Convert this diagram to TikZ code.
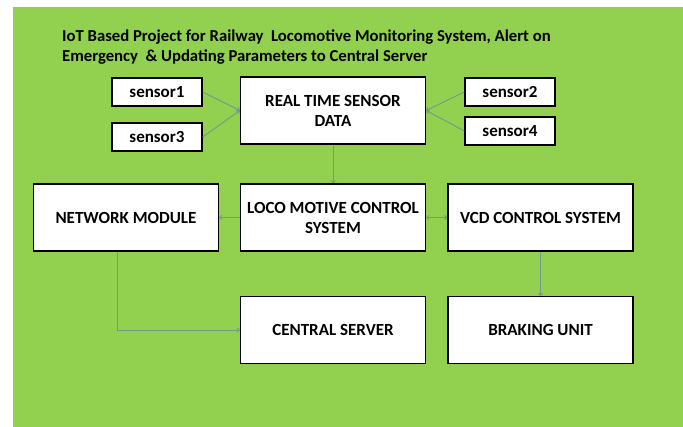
\documentclass[tikz,border=0pt]{standalone}
\usepackage{fontspec}
\setmainfont{Carlito}
\usetikzlibrary{arrows.meta}
\definecolor{slidegreen}{RGB}{146,208,80}
\definecolor{linkgray}{RGB}{110,155,140}
\begin{document}
\begin{tikzpicture}[x=1pt,y=-1pt,
  box/.style={draw=black,line width=1.4pt,fill=white,inner sep=0pt,align=center,
    font=\fontsize{17}{20}\selectfont\bfseries},
  sensorbox/.style={box,minimum width=90pt,minimum height=28pt},
  blockbox/.style={box,minimum width=185pt,minimum height=67pt},
  link/.style={draw=linkgray,line width=0.9pt,-{To[length=3pt,width=5pt]}}]
\useasboundingbox (0,0) rectangle (683,427);
\fill[slidegreen] (13,7) rectangle (683,427);
\node[anchor=west,align=left,inner sep=0pt,font=\fontsize{16.7}{20}\selectfont\bfseries] (title) at (62,47)
  {IoT Based Project for Railway\ \ Locomotive Monitoring System, Alert on\\
   Emergency\ \ \& Updating Parameters to Central Server};
\node[sensorbox] (s1) at (157,92){sensor1};
\node[sensorbox] (s3) at (157,137){sensor3};
\node[sensorbox] (s2) at (510,92){sensor2};
\node[sensorbox] (s4) at (510,131){sensor4};
\node[blockbox] (rtsd) at (333,110.5){REAL TIME SENSOR\\DATA};
\node[blockbox] (net) at (126,217.5){NETWORK MODULE};
\node[blockbox] (loco) at (333,217.5){LOCO MOTIVE CONTROL\\SYSTEM};
\node[blockbox] (vcd) at (540.5,217.5){VCD CONTROL SYSTEM};
\node[blockbox] (cserver) at (333,330){CENTRAL SERVER};
\node[blockbox] (brake) at (540.5,330){BRAKING UNIT};
\draw[link] (s1.east)--(rtsd.west);
\draw[link] (s3.east)--(rtsd.west);
\draw[link] (s2.west)--(rtsd.east);
\draw[link] (s4.west)--(rtsd.east);
\draw[link] (rtsd.south)--(loco.north);
\draw[link] (loco.west)--(net.east);
\draw[link,{To[length=3pt,width=5pt]}-{To[length=3pt,width=5pt]}] (loco.east)--(vcd.west);
\draw[link] ([xshift=-9pt]net.south)|-(cserver.west);
\draw[link] (vcd.south)--(brake.north);
\end{tikzpicture}
\end{document}
